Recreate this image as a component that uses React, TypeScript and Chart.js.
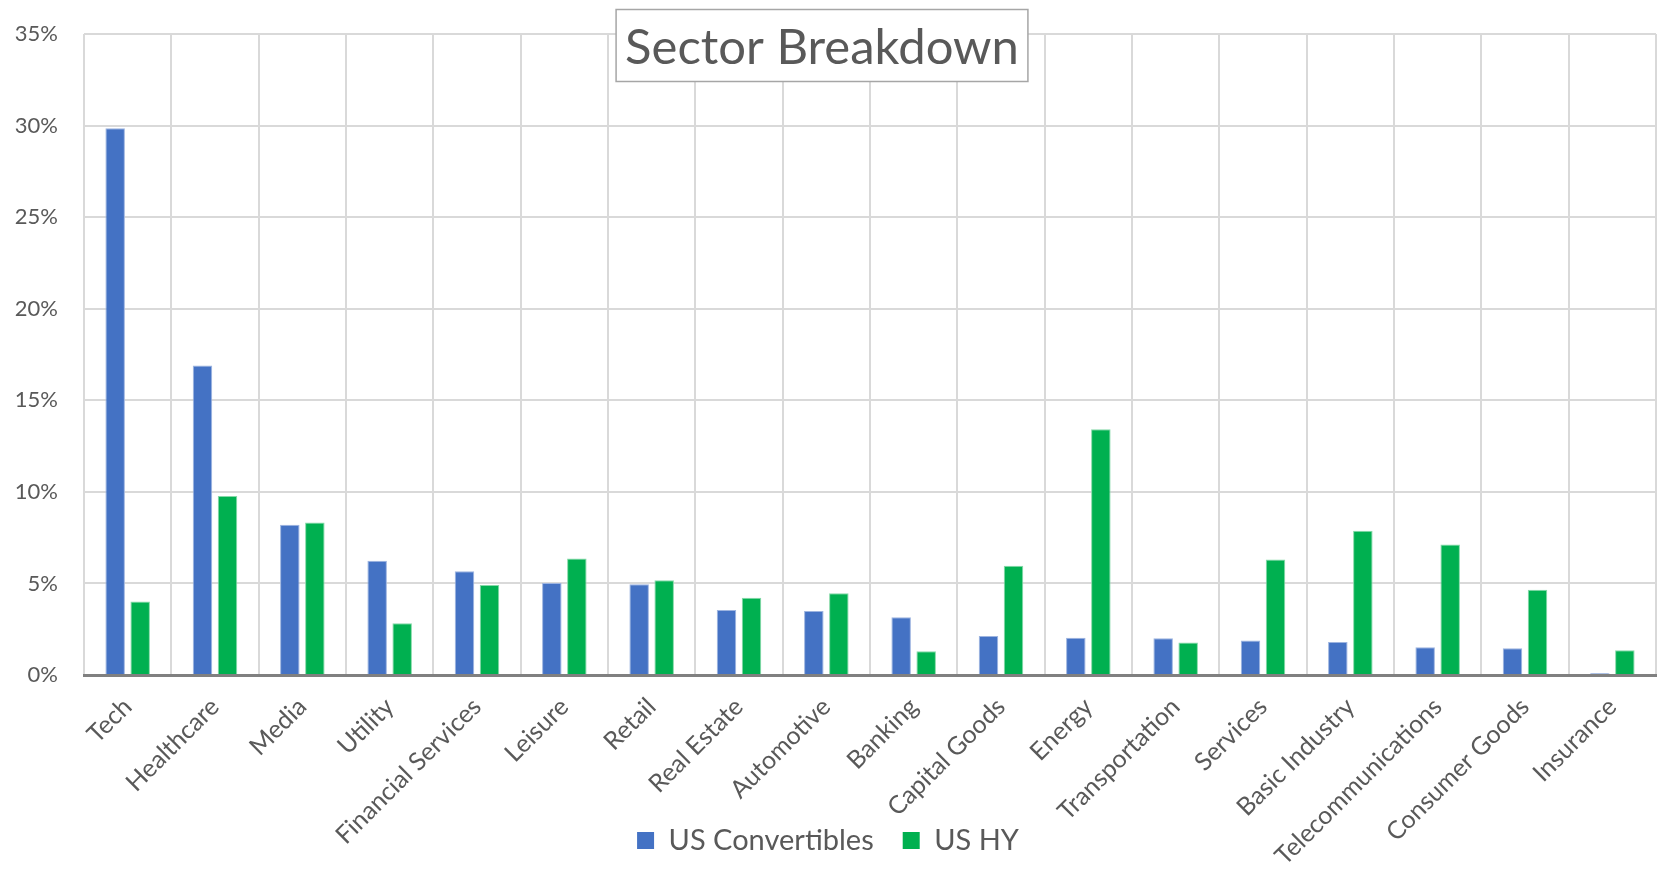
import React, { useEffect, useRef } from "react";
import { Chart, registerables } from "chart.js";

Chart.register(...registerables);

const categories = [
  "Tech",
  "Healthcare",
  "Media",
  "Utility",
  "Financial Services",
  "Leisure",
  "Retail",
  "Real Estate",
  "Automotive",
  "Banking",
  "Capital Goods",
  "Energy",
  "Transportation",
  "Services",
  "Basic Industry",
  "Telecommunications",
  "Consumer Goods",
  "Insurance",
];

const usConvertibles = [29.85, 16.9, 8.21, 6.24, 5.67, 5.02, 4.95, 3.55, 3.49, 3.15, 2.13, 2.04, 2.0, 1.89, 1.8, 1.51, 1.46, 0.1];
const usHY = [4.02, 9.78, 8.33, 2.82, 4.91, 6.36, 5.17, 4.22, 4.47, 1.29, 5.96, 13.42, 1.78, 6.31, 7.87, 7.12, 4.65, 1.35];

const seriesNames = ["US Convertibles", "US HY"];
const seriesColors = ["#4472C4", "#00B050"];
const seriesEdgeColors = ["#9db4e0", "#86d9a8"];
const yTickLabels = ["0%", "5%", "10%", "15%", "20%", "25%", "30%", "35%"];
const titleText = "Sector Breakdown";

const FONT = "Lato";
const TEXT_COLOR = "#595959";
const GRID_COLOR = "#d9d9d9";

const titleBoxPlugin = {
  id: "titleBox",
  afterLayout(chart: any) {
    // let rotated x labels extend down past the axis box (no clipping)
    const x = chart.scales.x;
    if (x) x.bottom = chart.height;
  },
  afterDraw(chart: any) {
    const ctx = chart.ctx as CanvasRenderingContext2D;
    ctx.save();
    ctx.font = `49px ${FONT}`;
    const w = ctx.measureText(titleText).width;
    const cx = 822;
    const boxW = w + 18;
    const left = cx - boxW / 2;
    const top = 9.5;
    const h = 72;
    ctx.fillStyle = "#ffffff";
    ctx.fillRect(left, top, boxW, h);
    ctx.strokeStyle = "#a6a6a6";
    ctx.lineWidth = 1.5;
    ctx.strokeRect(left, top, boxW, h);
    ctx.fillStyle = TEXT_COLOR;
    ctx.textAlign = "center";
    ctx.textBaseline = "alphabetic";
    ctx.fillText(titleText, cx, 64);
    ctx.restore();
  },
};

export default function App() {
  const ref = useRef<HTMLCanvasElement | null>(null);

  useEffect(() => {
    if (!ref.current) return;
    const chart = new Chart(ref.current, {
      type: "bar",
      data: {
        labels: categories,
        datasets: [
          {
            label: seriesNames[0],
            data: usConvertibles,
            backgroundColor: seriesColors[0],
            borderColor: seriesEdgeColors[0],
            borderWidth: 1,
            categoryPercentage: 0.573,
            barPercentage: 0.78,
          },
          {
            label: seriesNames[1],
            data: usHY,
            backgroundColor: seriesColors[1],
            borderColor: seriesEdgeColors[1],
            borderWidth: 1,
            categoryPercentage: 0.573,
            barPercentage: 0.78,
          },
        ],
      },
      options: {
        responsive: false,
        animation: false,
        layout: { padding: { top: 34, right: 2, bottom: 7, left: 0 } },
        plugins: {
          title: { display: false },
          tooltip: { enabled: false },
          legend: {
            position: "bottom",
            labels: {
              boxWidth: 17,
              boxHeight: 17,
              padding: 29,
              color: TEXT_COLOR,
              font: { family: FONT, size: 29 },
              generateLabels: (chart: any) =>
                chart.data.datasets.map((ds: any, i: number) => ({
                  text: ds.label,
                  fillStyle: seriesColors[i],
                  strokeStyle: seriesColors[i],
                  lineWidth: 0,
                  fontColor: TEXT_COLOR,
                  hidden: false,
                  datasetIndex: i,
                })),
            },
          },
        },
        scales: {
          x: {
            grid: { color: GRID_COLOR, lineWidth: 2, drawTicks: false, offset: true },
            border: { display: true, color: "#808080", width: 3 },
            ticks: {
              color: TEXT_COLOR,
              font: { family: FONT, size: 25 },
              minRotation: 45,
              maxRotation: 45,
              autoSkip: false,
              padding: 17,
            },
            afterFit: (s: any) => {
              s.height = 122;
            },
          },
          y: {
            min: 0,
            max: 35,
            grid: { color: GRID_COLOR, lineWidth: 2, drawTicks: false },
            border: { display: false },
            ticks: {
              stepSize: 5,
              padding: 26,
              color: TEXT_COLOR,
              font: { family: FONT, size: 22 },
              callback: (_v: any, i: number) => yTickLabels[i],
            },
            afterFit: (s: any) => {
              s.width = 84;
              s.paddingTop = 0;
              s.paddingBottom = 0;
            },
          },
        },
      },
      plugins: [titleBoxPlugin],
    });
    return () => chart.destroy();
  }, []);

  return (
    <div style={{ position: "absolute", left: 0, top: 0, width: 1658, height: 872, background: "#fff" }}>
      <canvas ref={ref} width={1658} height={872} style={{ display: "block" }} />
    </div>
  );
}
